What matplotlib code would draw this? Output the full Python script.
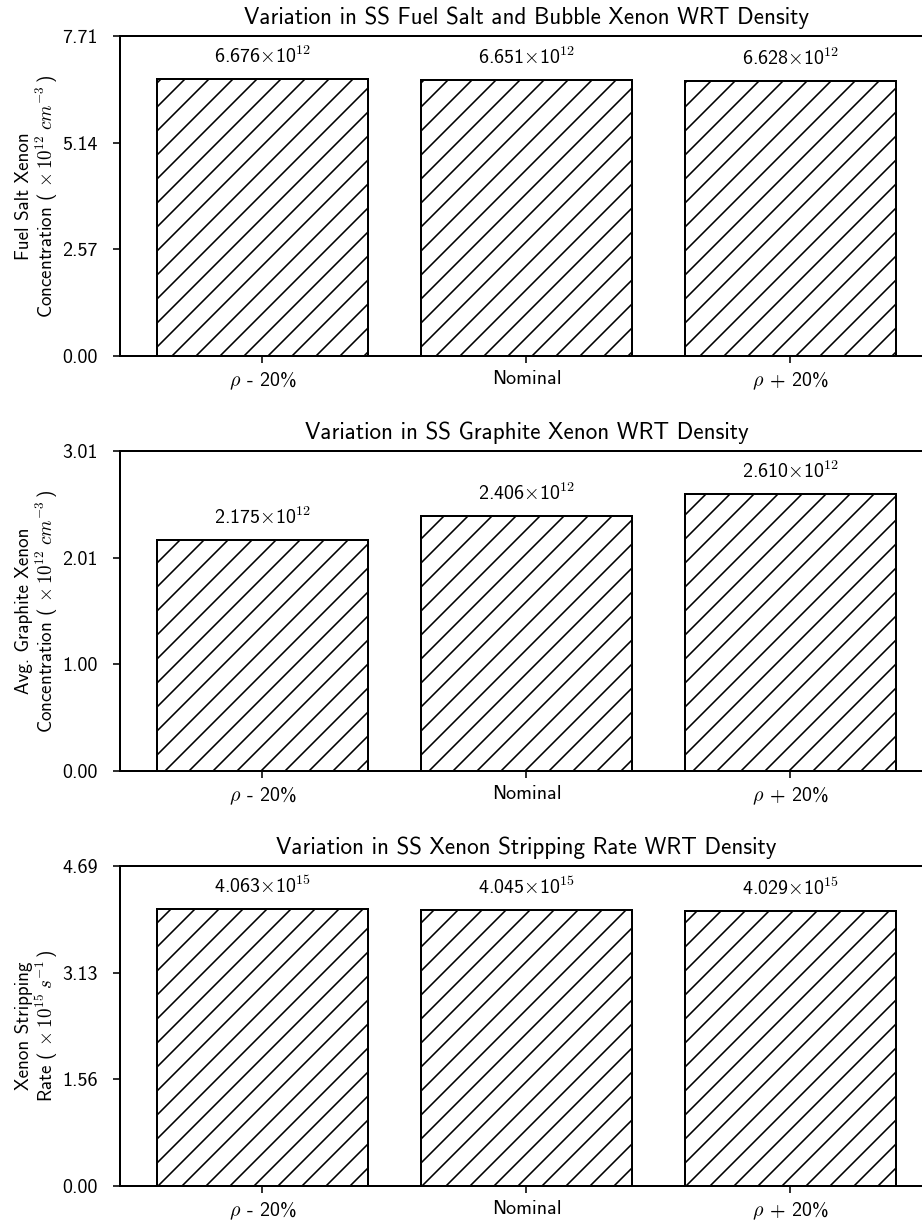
import numpy as np
import matplotlib
matplotlib.use("Agg")
import matplotlib.pyplot as plt

plt.rcParams['font.family'] = ['cmss10', 'DejaVu Sans']
plt.rcParams['mathtext.fontset'] = 'cm'
plt.rcParams['axes.unicode_minus'] = False
plt.rcParams['hatch.linewidth'] = 0.8
plt.rcParams['axes.linewidth'] = 1.0

# cases and results (values in units of the power of ten shown in each label)
cases = [r'$\rho$ - 20%', 'Nominal', r'$\rho$ + 20%']
fuel_xe = [6.676, 6.651, 6.628]
graphite_xe = [2.175, 2.406, 2.610]
strip_rate = [4.063, 4.045, 4.029]

titles = ['Variation in SS Fuel Salt and Bubble Xenon WRT Density',
          'Variation in SS Graphite Xenon WRT Density',
          'Variation in SS Xenon Stripping Rate WRT Density']
ylabels = ['Fuel Salt Xenon\n' + r'Concentration ($\,\times10^{12}\;cm^{-3}\,$)',
           'Avg. Graphite Xenon\n' + r'Concentration ($\,\times10^{12}\;cm^{-3}\,$)',
           'Xenon Stripping\n' + r'Rate ($\,\times10^{15}\;s^{-1}\,$)']
exponents = [12, 12, 15]
series = [fuel_xe, graphite_xe, strip_rate]

dpi = 144
fig = plt.figure(figsize=(922 / dpi, 1222 / dpi), dpi=dpi)

# axes are wider than the canvas, so the right spine falls just off the page
bottoms = [0.7087, 0.3691, 0.0295]
for vals, title, ylab, ex, bot in zip(series, titles, ylabels, exponents, bottoms):
    ax = fig.add_axes([0.130, bot, 0.882, 0.2619])
    x = np.arange(len(cases))
    bars = ax.bar(x, vals, width=0.8, color='white', edgecolor='black',
                  hatch='//', linewidth=1.0)
    top = max(vals) * 1.155
    ax.set_ylim(0, top)
    ax.set_yticks(np.linspace(0, top, 4))
    ax.set_yticklabels(['%.2f' % t for t in np.linspace(0, top, 4)])
    ax.set_xticks(x)
    ax.set_xticklabels(cases)
    ax.tick_params(labelsize=10)
    ax.tick_params(axis='y', pad=7.5)
    ax.set_title(title, fontsize=11.5, pad=6)
    ax.set_ylabel(ylab, fontsize=9.5, labelpad=1, linespacing=1.05)
    for b, v in zip(bars, vals):
        ax.annotate('%.3f' % v + r'$\times$10$^{\mathsf{%d}}$' % ex,
                    xy=(b.get_x() + b.get_width() / 2, v),
                    xytext=(0, 6), textcoords='offset points',
                    ha='center', va='bottom', fontsize=10)

fig.savefig('out.png', dpi=dpi)
